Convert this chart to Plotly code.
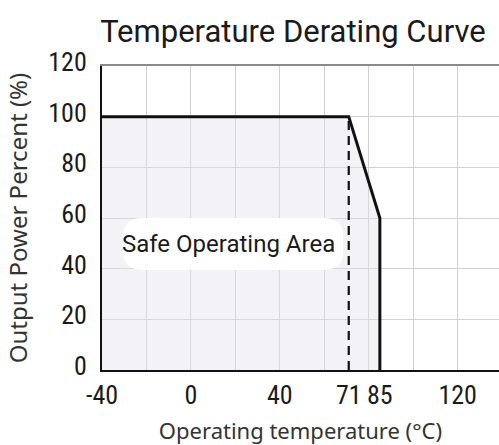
import plotly.graph_objects as go

# Data
temp = [-40, 71, 85, 85]
power = [100, 100, 60, 0]
knee_temp = [71, 71]
knee_power = [0, 100]
x_ticks = [-40, 0, 40, 71, 85, 120]
y_ticks = [0, 20, 40, 60, 80, 100, 120]

title_text = "Temperature Derating Curve"
x_title = "Operating temperature (°C)"
y_title = "Output Power Percent (%)"
area_label = "Safe Operating Area"

X_RANGE = [-40, 138.6]
Y_RANGE = [0, 120]

narrow = "Liberation Sans Narrow, Roboto Condensed, Roboto, sans-serif"

fig = go.Figure()

# White rounded label background (in data coordinates)
bx0, bx1, by0, by1, rx, ry = -30.5, 68.5, 39.5, 60.0, 9, 7
fig.add_shape(
    type="path", xref="x", yref="y", layer="above",
    path=(f"M {bx0+rx},{by0} L {bx1-rx},{by0} Q {bx1},{by0} {bx1},{by0+ry} "
          f"L {bx1},{by1-ry} Q {bx1},{by1} {bx1-rx},{by1} L {bx0+rx},{by1} "
          f"Q {bx0},{by1} {bx0},{by1-ry} L {bx0},{by0+ry} Q {bx0},{by0} {bx0+rx},{by0} Z"),
    fillcolor="white", line=dict(width=0),
)

fig.add_trace(go.Scatter(
    x=temp, y=power, mode="lines", fill="tozeroy",
    fillcolor="rgba(225,225,235,0.42)",
    line=dict(color="#111111", width=3),
    hoverinfo="skip", showlegend=False,
))
fig.add_trace(go.Scatter(
    x=knee_temp, y=knee_power, mode="lines",
    line=dict(color="#111111", width=2.2, dash="9px,6px"),
    hoverinfo="skip", showlegend=False,
))
# invisible trace to activate grid axis
fig.add_trace(go.Scatter(x=X_RANGE, y=[0, 0], xaxis="x2", mode="lines",
                         line=dict(width=0), hoverinfo="skip", showlegend=False))

tick_font = dict(family=narrow, size=26, color="#1a1a1a")

fig.update_layout(
    width=499, height=445,
    margin=dict(l=102, r=0, t=66, b=75, autoexpand=False),
    paper_bgcolor="white", plot_bgcolor="white",
    title=dict(text=title_text, x=0.587, xanchor="center", y=0.93, yanchor="middle",
               font=dict(family="Roboto, sans-serif", size=31, color="#1a1a1a")),
    xaxis=dict(
        range=X_RANGE, tickvals=x_ticks, ticktext=[str(v) for v in x_ticks],
        showgrid=False, zeroline=False, automargin=False,
        showline=True, linecolor="#111111", linewidth=2,
        ticks="", tickfont=tick_font, ticklabelstandoff=1,
        title=dict(text=x_title, standoff=14,
                   font=dict(family="Noto Sans, sans-serif", size=22, color="#333333")),
    ),
    xaxis2=dict(
        overlaying="x", side="top", range=X_RANGE, dtick=20, tick0=-40,
        showgrid=True, gridcolor="#d0d0d0", gridwidth=1, automargin=False,
        showticklabels=False, ticks="", zeroline=False,
        showline=True, linecolor="#8a8a8a", linewidth=1.5,
    ),
    yaxis=dict(
        range=Y_RANGE, tickvals=y_ticks, showgrid=True, gridcolor="#d0d0d0",
        zeroline=False, showline=True, linecolor="#111111", linewidth=2,
        automargin=False,
        ticks="", tickfont=tick_font, ticklabelstandoff=8, ticklabelshift=-4,
        title=dict(text=y_title, standoff=14,
                   font=dict(family="Noto Sans, sans-serif", size=24, color="#333333")),
    ),
)

fig.add_annotation(
    x=(bx0 + bx1) / 2 - 2, y=(by0 + by1) / 2, xref="x", yref="y", text=area_label,
    showarrow=False,
    font=dict(family="Roboto, sans-serif", size=24, color="#1a1a1a"),
)

fig.write_html("out.html", config={"displayModeBar": False},
               post_script="document.body.style.margin='0';")
